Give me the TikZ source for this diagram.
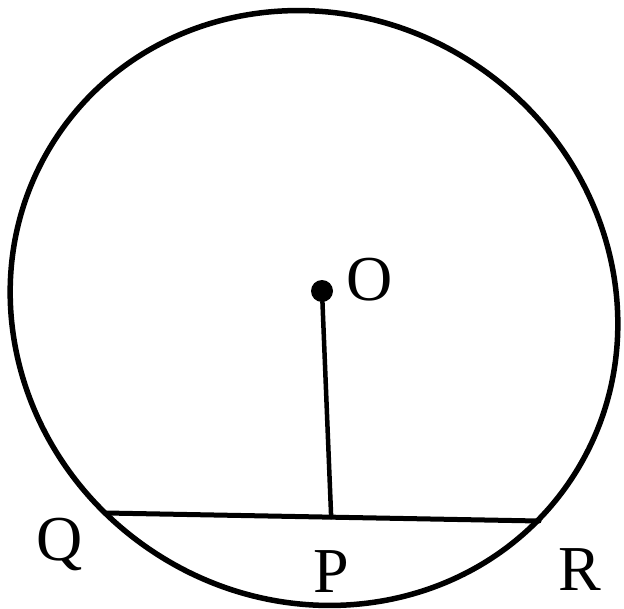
\documentclass[tikz,border=0pt]{standalone}
\usepackage{fontspec}
\setmainfont{Liberation Serif}
\usetikzlibrary{calc}
\tikzset{
  every picture/.style={black, line cap=round, line join=round},
  % Linien
  rim/.style={line width=5.5pt},
  seg/.style={line width=5pt},
  perp/.style={line width=4.5pt},
  % Punkte und Beschriftung
  dot/.style={circle, fill=black, inner sep=0pt, minimum size=22pt},
  lbl/.style={font=\fontsize{64}{64}\selectfont, inner sep=0pt, anchor=base},
}
\begin{document}
\begin{tikzpicture}[x=1pt, y=-1pt]
  \useasboundingbox (0,0) rectangle (624,608);
  % ---------- Kreis ----------
  \coordinate (C) at (314,308);
  \draw[rim, rotate around={-34:(C)}] (C) ellipse [x radius=309, y radius=292];
  % ---------- Sehne QR ----------
  \coordinate (Q) at (106,513);
  \coordinate (R) at (539,521);
  \coordinate (P) at ($(Q)!0.52!(R)$);
  \draw[seg] (Q) -- (R);
  % ---------- Mittelpunkt und Lot OP ----------
  \node[dot] (O) at (322,291) {};
  \draw[perp] (O) -- (P);
  % ---------- Beschriftung ----------
  \node[lbl] (lO) at (370,300) {O};
  \node[lbl] (lQ) at (60,560) {Q};
  \node[lbl] (lP) at (331,592) {P};
  \node[lbl] (lR) at (580,590) {R};
\end{tikzpicture}
\end{document}
